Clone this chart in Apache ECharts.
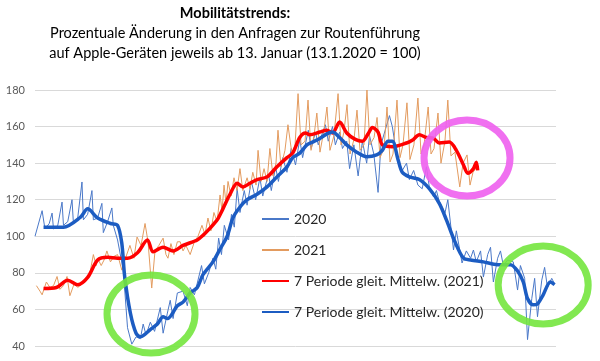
<!DOCTYPE html>
<html>
<head>
<meta charset="utf-8">
<script src="https://cdn.jsdelivr.net/npm/echarts@6/dist/echarts.min.js"></script>
<style>html,body{margin:0;padding:0;background:#fff}#c{width:600px;height:361px}</style>
</head>
<body>
<div id="c"></div>
<script>
// x = days since 13 Jan, y = index (13.1.2020 = 100)
const yTicks = [40, 60, 80, 100, 120, 140, 160, 180];
const seriesNames = ['2020', '2021', '7 Periode gleit. Mittelw. (2021)', '7 Periode gleit. Mittelw. (2020)'];

const raw2020 = [[0,100],[5,114],[7,104],[10,107],[12,112.7],[13,104],[16,106],[19,118.7],[20,106],[23,108],[26,120],[27,107],[30,110],[33,129.7],[34,109],[37,112],[40,125],[41,109],[44,110],[47,118],[48,102],[51,108],[54,115.5],[55,106],[58,98],[62,81.5],[65,50],[68,41],[71,45],[74,44],[76,52],[78,46],[81,53],[84,48],[88,61],[90,47],[93,58],[95,65],[97,55],[100,69],[104,70],[107,62],[109,72],[112,68],[117,84],[119,74],[122,80],[125,88],[127,82],[129,99],[131,90],[133,106],[136,98],[138,112],[140,105],[142,126],[144,113],[147,125],[149,117],[152,130],[155,120],[158,132],[160,122],[164,134],[166,125],[169,138],[171,130],[174,143],[177,135],[180,148],[183,139],[186,153],[188,143],[192,158],[194,148],[197,157],[199,150],[204,161],[206,152],[209,160],[211,150],[214,157],[216,148],[219,152],[221,137],[224,150],[227,133],[230,152],[233,140],[235,155],[238,145],[241,124],[243,150],[246,158],[249,166],[251,160],[254,145],[256,140],[258,136],[261,140],[263,131],[266,136],[269,128],[272,126],[275,138],[277,127],[280,121.5],[282,125],[284,119],[288,112.7],[290,120],[294,92.5],[296,103],[300,85.4],[303,92],[306,88],[308,92.5],[310,86],[313,92],[315,77.7],[318,90],[320,94],[322,75],[325,88],[327,92],[329,84],[332,87],[336,86],[339,70.6],[341,84],[344,77],[346,43.5],[349,66],[351,77],[353,56],[356,76],[358,83],[360,72],[363,77],[365,74]];

const raw2021 = [[1,73],[3.5,70],[5,68],[8,75],[10.5,72],[13,73],[15.5,78],[17.5,71],[20,73],[22.5,78],[24.5,67.5],[27.5,74],[30,72],[33,74],[36,76],[38.6,80],[41,90],[43,84],[44,88],[46.5,84],[48.5,87],[50.5,92],[53,86],[55.5,89],[58,90],[61,81.5],[64,89],[66.7,95],[69.5,88],[71.7,99.6],[74.5,95],[77.3,107],[79.4,97],[82,71.7],[84.3,92],[87,95],[90,99],[92,90],[93.4,88],[95.5,96],[97.6,90],[100,97],[102,97],[104,92],[106,95],[109,90],[112,97],[114.5,100],[117.3,106],[119.4,101],[121.5,110],[123.6,103],[125.7,113],[127.9,108],[130,122.6],[131.4,114],[132.8,128],[134.2,118],[135.6,130],[137.7,122],[139.8,132],[141.9,125],[144,137],[146,125],[149,132],[151,126],[153,135],[155.3,128],[156.7,147],[158.8,130],[160.9,137],[163,130],[165,148],[167.2,133],[169.3,140],[170.7,158],[172.8,138],[175.6,147],[177.7,161],[180.5,145],[182.7,150],[184.8,178],[186.9,150],[189.7,152],[191.8,174.5],[193.9,147],[196,155],[198,167.4],[200.2,146],[203,158],[205.1,170.7],[207.2,147],[210,155],[212.9,178],[215,150],[217,157],[219.2,172],[221.3,145],[224.1,153],[226.2,169],[228.3,147],[231.1,150],[233.2,180],[235.3,150],[238.2,154],[240.3,165],[242.4,143],[245.2,148],[247.3,170.7],[249.4,140.6],[251.5,145],[254.3,174.5],[256.4,143],[258.5,150],[261.3,173],[263.4,142],[266.2,150],[269,175.6],[271.2,145],[273.3,150],[276.2,170.7],[278.2,145],[280.3,148],[283.1,167.4],[285.2,140],[288,152],[290,174.5],[292.2,144],[295,146],[298.4,127],[300.7,140],[303.5,144.5],[305.6,128],[307.7,135],[310.5,138]];

const ma2021 = [[6,71.5],[15,72],[23,76],[30,73.5],[37,77.5],[44,87],[51,88.5],[58,88],[65,88],[72,91],[79,98],[83,91.5],[90,94],[97,92],[104,95],[114,98],[118,100.5],[123,104.5],[128,109],[132,115],[137,123],[142,129],[146,127],[151,129],[156,131],[163,132.5],[170,138],[177,143],[181,145.5],[186,154],[190,156.5],[193,155.5],[200,157],[205,158],[209,156.5],[214,162.5],[219,156.5],[225,153],[230,152],[234,156],[237,159.5],[241,157],[244,150],[251,149],[261,151],[265,152.5],[270,155.5],[275,154],[280,153.5],[284,151],[291,151.5],[296,147],[301,139],[304,134.5],[308,137],[310,140.5],[311,136]];

const ma2020 = [[6,105],[20,105],[32,110.5],[37,115],[44,110],[53,107],[58,106],[61,96],[63,78],[67,58],[71,47],[74,45],[81,49],[86,52],[90,56],[93,55],[100,62],[104,64],[109,69],[114,72],[118,79],[125,86],[130,93],[135,100],[139,110],[144,116],[149,120],[156,123],[163,127],[170,132.5],[177,138],[181,143],[186,145.5],[191,150],[195,151.5],[200,153.5],[205,156],[209,157],[214,154],[219,150],[226,146],[233,143.5],[240,144.5],[244,147],[248,152],[251,152],[255,142],[258,135],[263,132.5],[270,131],[277,126],[284,118],[289,109],[295,97],[301,88],[306,87],[315,86],[325,84.5],[334,84.5],[339,81],[343,75],[346,66],[350,62.5],[353,63],[357,68],[362,75],[365,73.5]];

// hand-drawn annotation rings: centre in data units, radii in px
const rings = [
  {center:[303.5,142.8], rx:43, ry:38, color:'#ee5fee'},
  {center:[81.5,57.5], rx:44, ry:39, color:'#74e63e'},
  {center:[357,73.4], rx:45, ry:39, color:'#74e63e'}
];

const FONT = 'Lato';
const chart = echarts.init(document.getElementById('c'));
chart.setOption({
  animation:false,
  backgroundColor:'#fff',
  grid:{left:35, right:44, top:90, bottom:15},
  xAxis:{type:'value', min:0, max:366, show:false},
  yAxis:{type:'value', min:yTicks[0], max:yTicks[yTicks.length-1], interval:20,
    axisLine:{show:false}, axisTick:{show:false},
    axisLabel:{color:'#595959', fontSize:11, margin:10, fontFamily:FONT},
    splitLine:{lineStyle:{color:'#d9d9d9', width:1}}},
  legend:{orient:'vertical', left:261, top:212, padding:0, itemWidth:27, itemHeight:14, itemGap:17,
    itemStyle:{opacity:0},
    data:seriesNames, textStyle:{fontFamily:FONT, fontSize:14, color:'#262626'}},
  series:[
    {name:seriesNames[0], type:'line', data:raw2020, symbol:'none', lineStyle:{color:'#4a78c8', width:1}, itemStyle:{color:'#4a78c8'}},
    {name:seriesNames[1], type:'line', data:raw2021, symbol:'none', lineStyle:{color:'#e39b5f', width:1}, itemStyle:{color:'#e39b5f'}},
    {name:seriesNames[2], type:'line', data:ma2021, symbol:'none', smooth:0.3, lineStyle:{color:'#ff0000', width:3.5}, itemStyle:{color:'#ff0000'}},
    {name:seriesNames[3], type:'line', data:ma2020, symbol:'none', smooth:0.3, lineStyle:{color:'#1c5cc2', width:3.5}, itemStyle:{color:'#1c5cc2'}}
  ]
});

const graphics = [
  {type:'text', x:235, y:13, style:{text:'Mobilitätstrends:', font:'bold 14.5px '+FONT, fill:'#000', textAlign:'center', textVerticalAlign:'middle'}},
  {type:'text', x:235, y:33, style:{text:'Prozentuale Änderung in den Anfragen zur Routenführung', font:'14.5px '+FONT, fill:'#000', textAlign:'center', textVerticalAlign:'middle'}},
  {type:'text', x:235, y:53, style:{text:'auf Apple-Geräten jeweils ab 13. Januar (13.1.2020 = 100)', font:'14.5px '+FONT, fill:'#000', textAlign:'center', textVerticalAlign:'middle'}}
];
rings.forEach(r => {
  const p = chart.convertToPixel({gridIndex:0}, r.center);
  graphics.push({type:'ellipse', z:100, shape:{cx:p[0], cy:p[1], rx:r.rx, ry:r.ry},
    style:{fill:'none', stroke:r.color, lineWidth:7, opacity:0.9}});
});
chart.setOption({graphic:graphics});
</script>
</body>
</html>
